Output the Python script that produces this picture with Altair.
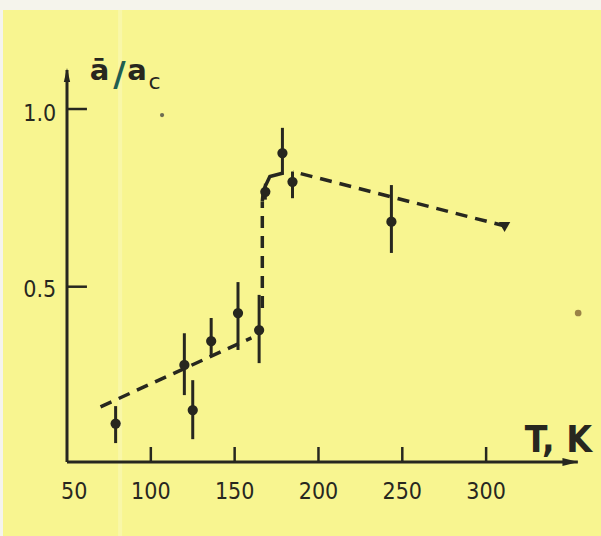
import altair as alt
import pandas as pd

# ---- data ----
T = [79, 120, 125, 136, 152, 164.6, 168.3, 178.5, 184.5, 243.5]
A = [0.115, 0.28, 0.153, 0.347, 0.426, 0.378, 0.767, 0.876, 0.795, 0.683]
A_LO = [0.06, 0.195, 0.071, 0.303, 0.322, 0.285, 0.745, 0.815, 0.749, 0.595]
A_HI = [0.164, 0.369, 0.237, 0.412, 0.513, 0.477, 0.79, 0.947, 0.824, 0.786]
TRI_T = [311]
TRI_A = [0.668]

LOW_T = [70, 160]
LOW_A = [0.162, 0.356]
JUMP_T = [166.5, 166.5]
JUMP_A = [0.44, 0.74]
BEND_T = [166.5, 167.0, 168.1, 171.0, 179.0]
BEND_A = [0.74, 0.765, 0.781, 0.81, 0.82]
HIGH_T = [184.7, 311.9]
HIGH_A = [0.824, 0.67]

X_TICKS = [100, 150, 200, 250, 300]
X_LABELS = ["50", "100", "150", "200", "250", "300"]
X_LABEL_POS = [54.3, 100, 150, 200, 250, 300]
Y_TICKS = [0.5, 1.0]
Y_LABELS = ["0.5", "1.0"]

SPECK_T = [106.7, 354.9]
SPECK_A = [0.983, 0.426]

INK = "#27271f"
BG = "#f8f590"
FONT = "DejaVu Sans Condensed"

X0, X1 = 50.0, 356.0
Y0, Y1 = 0.00675, 1.1154

xs = alt.Scale(domain=[X0, X1], nice=False, zero=False)
ys = alt.Scale(domain=[Y0, Y1], nice=False, zero=False)


def X(f="T"):
    return alt.X(f"{f}:Q", scale=xs, axis=None)


def Y(f="a"):
    return alt.Y(f"{f}:Q", scale=ys, axis=None)


pts = pd.DataFrame({"T": T, "a": A, "lo": A_LO, "hi": A_HI})
tri = pd.DataFrame({"T": TRI_T, "a": TRI_A})
dashed = pd.concat([
    pd.DataFrame({"T": LOW_T, "a": LOW_A, "seg": "low"}),
    pd.DataFrame({"T": JUMP_T, "a": JUMP_A, "seg": "jump"}),
    pd.DataFrame({"T": HIGH_T, "a": HIGH_A, "seg": "high"}),
])
bend = pd.DataFrame({"T": BEND_T, "a": BEND_A})

# decorations (paper edges, light stripe)
top_band = alt.Chart(pd.DataFrame({"k": [0]})).mark_rect(color="#f5f4ec").encode(
    x=alt.value(-67), x2=alt.value(534), y=alt.value(-68), y2=alt.value(-58))
left_band = alt.Chart(pd.DataFrame({"k": [0]})).mark_rect(color="#f5f4ec").encode(
    x=alt.value(-67), x2=alt.value(-64), y=alt.value(-68), y2=alt.value(468))
stripe = alt.Chart(pd.DataFrame({"T": [81.7]})).mark_rule(
    color="#ffffff", opacity=0.22, strokeWidth=4).encode(
    x=X(), y=alt.value(-58), y2=alt.value(468))

lines = alt.Chart(dashed).mark_line(
    color=INK, strokeWidth=3.5, strokeDash=[12, 8]).encode(
    x=X(), y=Y(), detail="seg:N", order="a:Q")
bend_line = alt.Chart(bend).mark_line(color=INK, strokeWidth=3.5).encode(
    x=X(), y=Y(), order="T:Q")

bars = alt.Chart(pts).mark_rule(color=INK, strokeWidth=3).encode(
    x=X(), y=Y("lo"), y2="hi:Q")
dots = alt.Chart(pts).mark_circle(color=INK, size=105, opacity=1).encode(
    x=X(), y=Y())
tri_mark = alt.Chart(tri).mark_point(
    shape="triangle-down", filled=True, color=INK, size=130, opacity=1).encode(
    x=X(), y=Y())

specks = alt.Chart(pd.DataFrame({"T": SPECK_T, "a": SPECK_A, "c": ["#555548", "#8a6d3a"],
                                 "s": [18, 45]})).mark_circle(opacity=0.85).encode(
    x=X(), y=Y(), color=alt.Color("c:N", scale=None), size=alt.Size("s:Q", scale=None))

# axes
xaxis = alt.Chart(pd.DataFrame({"T": [X0], "T2": [354.7], "a": [Y0]})).mark_rule(
    color=INK, strokeWidth=3).encode(x=X(), x2="T2:Q", y=Y())
yaxis = alt.Chart(pd.DataFrame({"T": [X0], "a": [Y0], "a2": [1.11]})).mark_rule(
    color=INK, strokeWidth=3).encode(x=X(), y=Y(), y2="a2:Q")
xarrow = alt.Chart(pd.DataFrame({"T": [350.3], "a": [Y0]})).mark_point(
    shape="M1,0L-1,-0.5L-1,0.5Z", filled=True, color=INK, size=256, opacity=1).encode(
    x=X(), y=Y())
yarrow = alt.Chart(pd.DataFrame({"T": [X0], "a": [1.0957]})).mark_point(
    shape="M0,-1L0.45,1L-0.45,1Z", filled=True, color=INK, size=196, opacity=1).encode(
    x=X(), y=Y())

xt = alt.Chart(pd.DataFrame({"T": X_TICKS, "a": [Y0] * 5, "a2": [0.049] * 5})).mark_rule(
    color=INK, strokeWidth=2.5).encode(x=X(), y=Y(), y2="a2:Q")
yt = alt.Chart(pd.DataFrame({"T": [X0] * 2, "T2": [61.9] * 2, "a": Y_TICKS})).mark_rule(
    color=INK, strokeWidth=2.5).encode(x=X(), x2="T2:Q", y=Y())

xl = alt.Chart(pd.DataFrame({"T": X_LABEL_POS, "a": [-0.0777] * 6, "t": X_LABELS})).mark_text(
    font=FONT, fontSize=23, color=INK, align="center", baseline="middle").encode(
    x=X(), y=Y(), text="t:N")
yl = alt.Chart(pd.DataFrame({"T": [43.6, 43.6], "a": [0.492, 0.986], "t": Y_LABELS})).mark_text(
    font=FONT, fontSize=23, color=INK, align="right", baseline="middle").encode(
    x=X(), y=Y(), text="t:N")


# y title: ā / a_c
def txt(t, Tv, av, size, color=INK, align="left", weight="normal", font="DejaVu Sans"):
    return alt.Chart(pd.DataFrame({"T": [Tv], "a": [av], "t": [t]})).mark_text(
        font=font, fontSize=size, color=color, align=align, baseline="alphabetic",
        fontWeight=weight).encode(x=X(), y=Y(), text="t:N")


title_a1 = txt("ā", 63.6, 1.0816, 29, weight="bold")
title_sl = txt("/", 77.6, 1.064, 34, color="#1f5e50", weight="bold")
title_a2 = txt("a", 86.0, 1.0816, 29, weight="bold")
title_c = txt("c", 98.6, 1.057, 22)
xtitle = txt("T, K", 323.0, 0.0349, 37, weight="bold", font=FONT)

chart = alt.layer(
    top_band, left_band, stripe,
    lines, bend_line, bars, dots, tri_mark, specks,
    xaxis, yaxis, xarrow, yarrow, xt, yt, xl, yl,
    title_a1, title_sl, title_a2, title_c, xtitle,
).properties(
    width=513, height=394,
    autosize=alt.AutoSizeParams(type="none"),
    padding={"left": 67, "top": 68, "right": 21, "bottom": 74},
    background=BG,
).configure_view(stroke=None)

chart.save("out.html", embed_options={"renderer": "svg", "actions": False})
